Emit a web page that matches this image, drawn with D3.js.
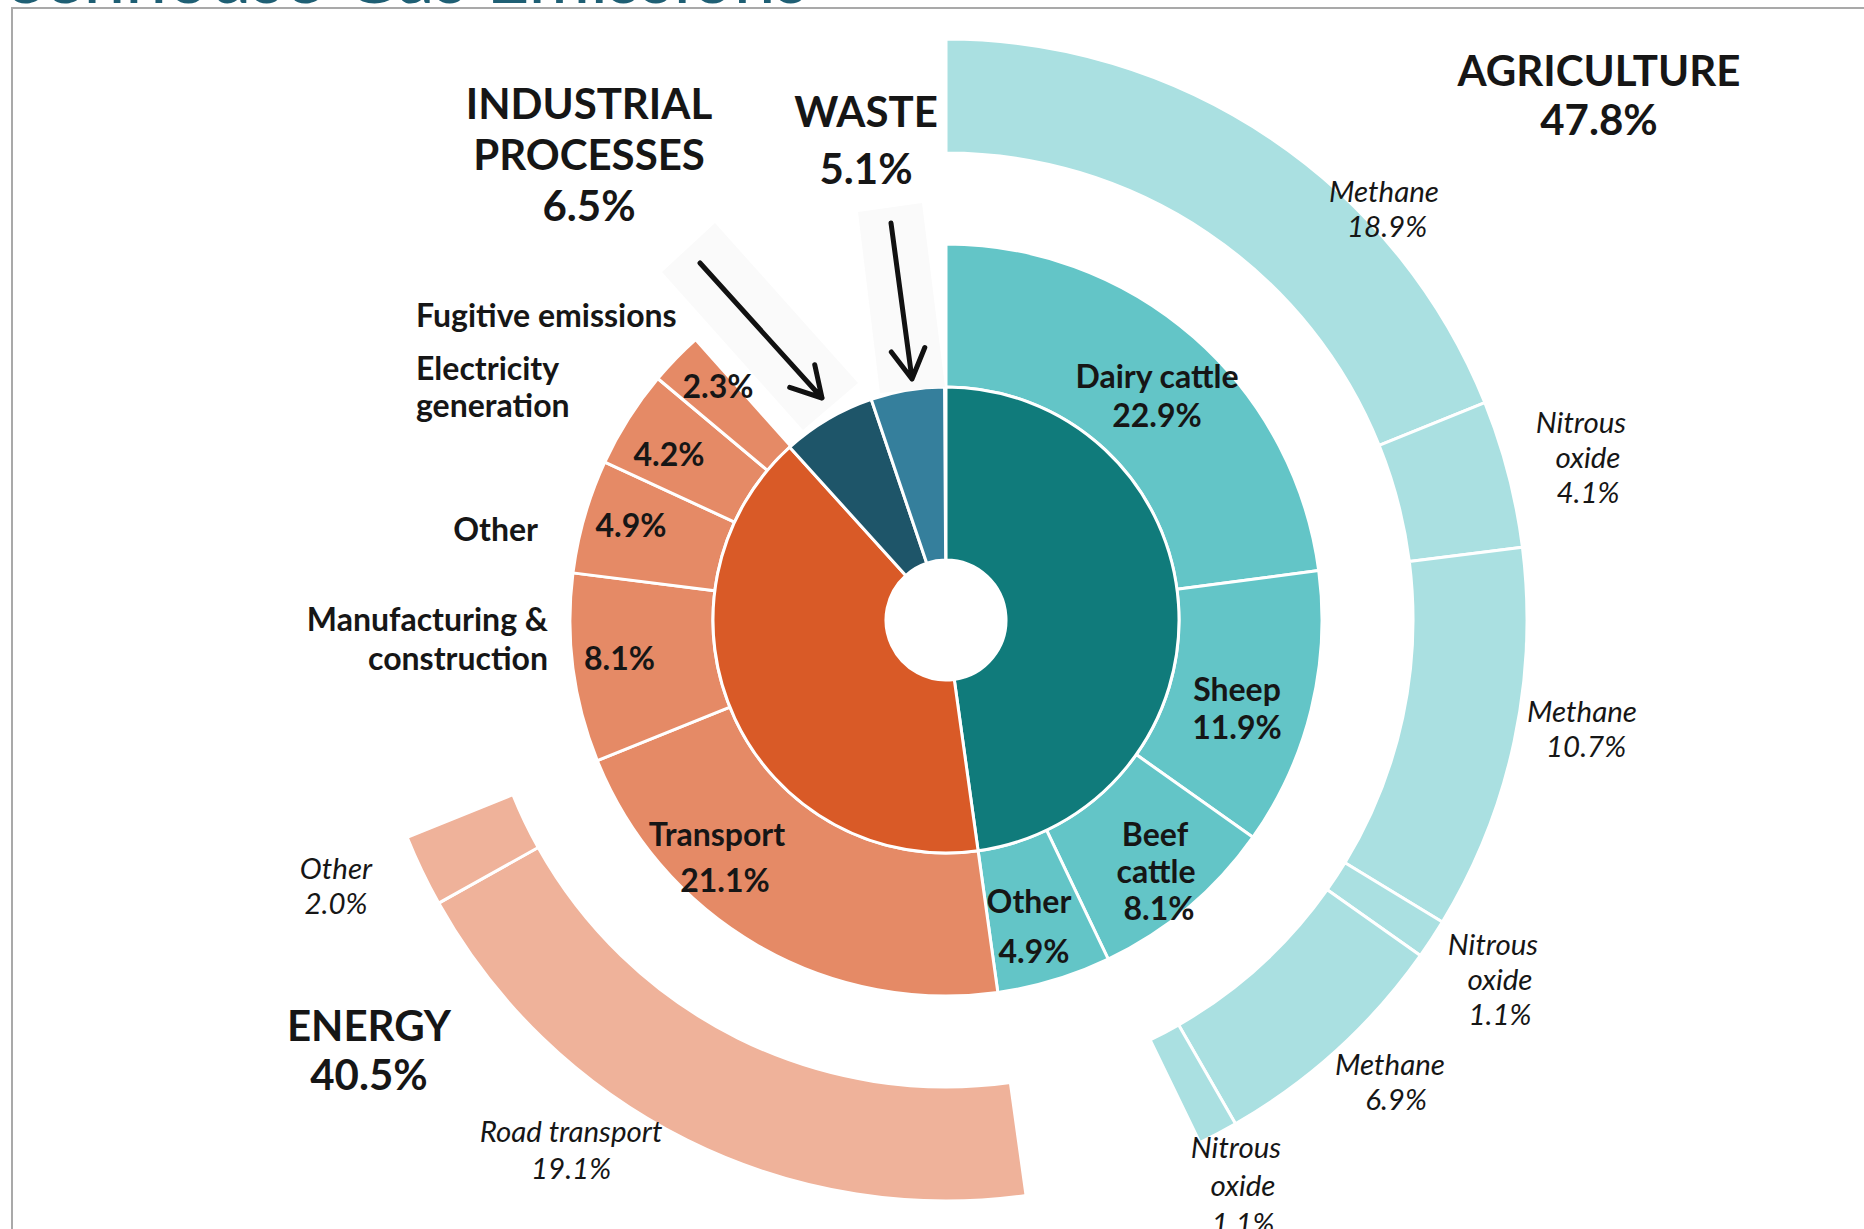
<!DOCTYPE html>
<html>
<head>
<meta charset="utf-8">
<script src="https://cdn.jsdelivr.net/npm/d3@7"></script>
<style>
  body { margin: 0; background: #fff; overflow: hidden; }
  text { font-family: Lato, "Open Sans", sans-serif; fill: #161616; }
</style>
</head>
<body>
<script>
// page + chart geometry
const WIDTH = 1864, HEIGHT = 1229;
const CENTER = { x: 946, y: 620 };
const RADIUS = { hole: 60, inner: 233, mid: 376, outerIn: 467, outerOut: 581 };

// --- data (share of total emissions, %) ---
const sectors = ['Agriculture', 'Energy', 'Industrial processes', 'Waste'];
const sectorValues = [47.8, 40.5, 6.5, 5.1];

const agriSources = ['Dairy cattle', 'Sheep', 'Beef cattle', 'Other'];
const agriSourceValues = [22.9, 11.9, 8.1, 4.9];

const energySources = ['Transport', 'Manufacturing & construction', 'Other', 'Electricity generation', 'Fugitive emissions'];
const energySourceValues = [21.1, 8.1, 4.9, 4.2, 2.3];

// gases for dairy, sheep and beef cattle, in that order
const agriGases = ['Methane', 'Nitrous oxide', 'Methane', 'Nitrous oxide', 'Methane', 'Nitrous oxide'];
const agriGasValues = [18.9, 4.1, 10.7, 1.1, 6.9, 1.1];

// transport split
const transportModes = ['Road transport', 'Other'];
const transportValues = [19.1, 2.0];

// colours
const sectorColors = ['#107b7b', '#d95a27', '#1e5569', '#357f9c'];
const midColors = { Agriculture: '#63c5c7', Energy: '#e58a66' };
const outerColors = { Agriculture: '#aae0e1', Energy: '#efb29a' };

const fmt = v => d3.format('.1f')(v) + '%';

// cumulative segments starting at a given offset
const stack = (names, values, start) => {
    let acc = start;
    return names.map((name, i) => {
        const seg = { name: name, value: values[i], start: acc, end: acc + values[i] };
        acc += values[i];
        return seg;
    });
};

const angle = d3.scaleLinear().domain([0, 100]).range([0, 2 * Math.PI]);

const svg = d3.select('body').append('svg')
    .attr('width', WIDTH)
    .attr('height', HEIGHT);

// cut-off title and frame
svg.append('text')
    .attr('x', 808)
    .attr('y', 3)
    .attr('text-anchor', 'end')
    .style('font-size', '75px')
    .style('fill', '#1f5f74')
    .text('Greenhouse Gas Emissions');

svg.append('rect')
    .attr('x', 12).attr('y', 8)
    .attr('width', 3000).attr('height', 3000)
    .attr('fill', 'none')
    .attr('stroke', '#a9a9a9')
    .attr('stroke-width', 2);

const chart = svg.append('g')
    .attr('transform', `translate(${CENTER.x},${CENTER.y})`);

const arcFor = (r0, r1) => d3.arc()
    .innerRadius(r0)
    .outerRadius(r1)
    .startAngle(d => angle(d.start))
    .endAngle(d => angle(d.end));

// inner ring: sectors
const sectorSegs = stack(sectors, sectorValues, 0);
sectorSegs.forEach((d, i) => d.color = sectorColors[i]);

// middle ring: agriculture + energy sources
const agriSegs = stack(agriSources, agriSourceValues, sectorSegs[0].start);
const energySegs = stack(energySources, energySourceValues, sectorSegs[1].start);
agriSegs.forEach(d => d.color = midColors.Agriculture);
energySegs.forEach(d => d.color = midColors.Energy);

// outer ring: gases for cattle/sheep, modes for transport
const gasSegs = stack(agriGases, agriGasValues, agriSegs[0].start);
const transportSegs = stack(transportModes, transportValues, energySegs[0].start);
gasSegs.forEach(d => d.color = outerColors.Agriculture);
transportSegs.forEach(d => d.color = outerColors.Energy);

const drawRing = (data, r0, r1) => {
    chart.append('g').selectAll('path')
        .data(data)
        .join('path')
        .attr('d', arcFor(r0, r1))
        .attr('fill', d => d.color)
        .attr('stroke', '#fff')
        .attr('stroke-width', 3)
        .attr('stroke-linejoin', 'round');
};

drawRing(gasSegs.concat(transportSegs), RADIUS.outerIn, RADIUS.outerOut);
drawRing(agriSegs.concat(energySegs), RADIUS.inner, RADIUS.mid);
drawRing(sectorSegs, RADIUS.hole, RADIUS.inner);

// faint backing panels and arrows pointing at the small sectors
const panels = [
    [[662, 272], [715, 223], [858, 383], [803, 430]],
    [[858, 212], [922, 203], [945, 387], [880, 393]]
];
svg.append('g').selectAll('polygon')
    .data(panels)
    .join('polygon')
    .attr('points', d => d.map(p => p.join(',')).join(' '))
    .attr('fill', '#fafafa');

const arrows = [
    { from: [700, 263], to: [822, 398] },
    { from: [891, 223], to: [912, 379] }
];
const arrowPath = a => {
    const dx = a.to[0] - a.from[0], dy = a.to[1] - a.from[1];
    const t = Math.atan2(dy, dx), len = 34, spread = 0.52;
    const h1 = [a.to[0] - len * Math.cos(t - spread), a.to[1] - len * Math.sin(t - spread)];
    const h2 = [a.to[0] - len * Math.cos(t + spread), a.to[1] - len * Math.sin(t + spread)];
    return `M${a.from}L${a.to}M${h1}L${a.to}L${h2}`;
};
svg.append('g').selectAll('path')
    .data(arrows)
    .join('path')
    .attr('d', arrowPath)
    .attr('fill', 'none')
    .attr('stroke', '#111')
    .attr('stroke-width', 5)
    .attr('stroke-linecap', 'round')
    .attr('stroke-linejoin', 'round');

// --- labels ---
const multiLine = (g, lines, x, y, lh, anchor, cls) => {
    const t = g.append('text')
        .attr('class', cls)
        .attr('text-anchor', anchor || 'middle');
    lines.forEach((line, i) => {
        t.append('tspan')
            .attr('x', Array.isArray(x) ? x[i] : x)
            .attr('y', y + i * lh)
            .text(line);
    });
    return t;
};

const labels = svg.append('g');

// sector headings
const headings = [
    { lines: ['AGRICULTURE', fmt(sectorValues[0])], x: 1599, y: 86, lh: 49 },
    { lines: ['ENERGY', fmt(sectorValues[1])], x: 369, y: 1041, lh: 49 },
    { lines: ['INDUSTRIAL', 'PROCESSES', fmt(sectorValues[2])], x: 589, y: 119, lh: 51 },
    { lines: ['WASTE', fmt(sectorValues[3])], x: 866, y: 127, lh: 57 }
];
headings.forEach(h => multiLine(labels, h.lines, h.x, h.y, h.lh, 'middle', 'heading'));

// bold source labels
const sourceLabels = [
    { lines: ['Dairy cattle', fmt(agriSourceValues[0])], x: 1157, y: 388, lh: 39 },
    { lines: ['Sheep', fmt(agriSourceValues[1])], x: 1237, y: 701, lh: 38 },
    { lines: ['Beef', 'cattle', fmt(agriSourceValues[2])], x: [1155, 1156, 1159], y: 846, lh: 37 },
    { lines: ['Other', fmt(agriSourceValues[3])], x: [1029, 1034], y: 913, lh: 50 },
    { lines: ['Transport', fmt(energySourceValues[0])], x: [717, 725], y: 846, lh: 46 },
    { lines: ['Manufacturing &', 'construction'], x: 548, y: 631, lh: 39, anchor: 'end' },
    { lines: [fmt(energySourceValues[1])], x: 584, y: 670, lh: 0, anchor: 'start' },
    { lines: ['Other'], x: 538, y: 541, lh: 0, anchor: 'end' },
    { lines: [fmt(energySourceValues[2])], x: 631, y: 537, lh: 0 },
    { lines: ['Electricity', 'generation'], x: 416, y: 380, lh: 37, anchor: 'start' },
    { lines: [fmt(energySourceValues[3])], x: 669, y: 466, lh: 0 },
    { lines: ['Fugitive emissions'], x: 416, y: 327, lh: 0, anchor: 'start' },
    { lines: [fmt(energySourceValues[4])], x: 718, y: 398, lh: 0 }
];
sourceLabels.forEach(s => multiLine(labels, s.lines, s.x, s.y, s.lh, s.anchor, 'source'));

// italic outer-ring labels
const gasLabels = [
    { lines: ['Methane', fmt(agriGasValues[0])], x: [1384, 1387], y: 202, lh: 35 },
    { lines: ['Nitrous', 'oxide', fmt(agriGasValues[1])], x: [1581, 1588, 1588], y: 433, lh: 35 },
    { lines: ['Methane', fmt(agriGasValues[2])], x: [1582, 1586], y: 722, lh: 35 },
    { lines: ['Nitrous', 'oxide', fmt(agriGasValues[3])], x: [1493, 1500, 1500], y: 955, lh: 35 },
    { lines: ['Methane', fmt(agriGasValues[4])], x: [1390, 1396], y: 1075, lh: 35 },
    { lines: ['Nitrous', 'oxide', fmt(agriGasValues[5])], x: [1236, 1243, 1243], y: 1158, lh: 38 },
    { lines: ['Other', fmt(transportValues[1])], x: 336, y: 879, lh: 35 },
    { lines: ['Road transport', fmt(transportValues[0])], x: 571, y: 1142, lh: 37 }
];
gasLabels.forEach(s => multiLine(labels, s.lines, s.x, s.y, s.lh, 'middle', 'gas'));

labels.selectAll('.heading').style('font-size', '42px').style('font-weight', 700);
labels.selectAll('.source').style('font-size', '32px').style('font-weight', 700);
labels.selectAll('.gas').style('font-size', '29.5px').style('font-style', 'italic');
</script>
</body>
</html>
